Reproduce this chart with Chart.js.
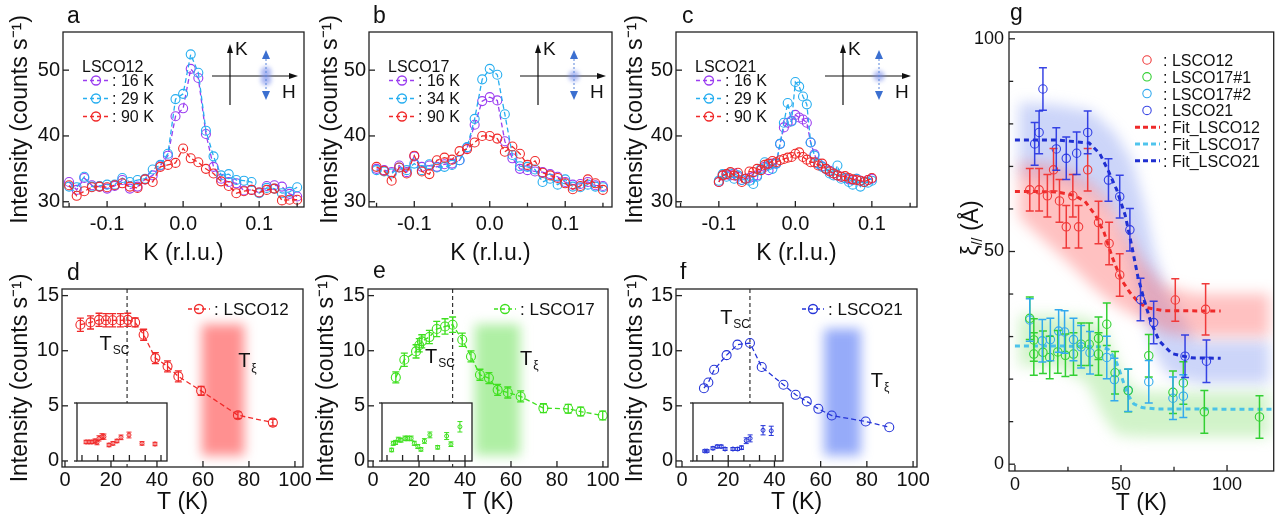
<!DOCTYPE html>
<html>
<head>
<meta charset="utf-8">
<title>LSCO charge order figure</title>
<script src="https://cdn.jsdelivr.net/npm/chart.js@4.4.1/dist/chart.umd.min.js"></script>
<style>
  html, body { margin: 0; padding: 0; background: #fff; }
  body { width: 1279px; height: 521px; position: relative; overflow: hidden; }
  canvas { position: absolute; }
</style>
</head>
<body>
<canvas id="ca"></canvas><canvas id="cb"></canvas><canvas id="cc"></canvas>
<canvas id="cd"></canvas><canvas id="ce"></canvas><canvas id="cf"></canvas>
<canvas id="cg"></canvas>
<canvas id="id"></canvas><canvas id="ie"></canvas><canvas id="if"></canvas>
<script>
// ---------- data: K scans (panels a-c) ----------
const kAB = [-0.15,-0.14,-0.13,-0.12,-0.11,-0.10,-0.09,-0.08,-0.07,-0.06,-0.05,-0.04,-0.03,-0.02,-0.01,0.00,
             0.01,0.02,0.03,0.04,0.05,0.06,0.07,0.08,0.09,0.10,0.11,0.12,0.13,0.14,0.15];
const a16 = [33.0,31.8,33.6,32.5,32.3,32.0,32.4,33.3,32.0,32.3,33.4,34.0,35.5,37.0,43.0,44.2,
             50.2,48.8,40.3,35.3,33.5,33.0,32.8,31.7,31.8,31.4,32.4,32.5,32.3,31.2,30.8];
const a29 = [32.3,32.2,33.8,32.3,32.4,32.6,32.6,33.6,33.0,33.3,33.5,34.9,35.6,37.3,45.6,46.4,
             52.4,49.6,40.8,36.9,34.0,34.2,33.3,33.2,33.0,31.3,32.1,32.0,31.3,31.5,32.2];
const a90 = [32.5,30.9,31.6,32.2,32.3,32.2,32.5,32.8,32.3,32.1,33.4,33.0,35.3,35.6,35.9,38.1,
             36.6,36.0,35.0,34.3,33.1,32.4,31.3,31.6,31.8,31.4,31.8,32.0,30.2,30.3,30.3];
const b16 = [35.0,34.8,34.5,35.5,34.5,36.9,35.3,35.5,35.3,35.7,35.8,36.3,38.2,41.7,45.3,45.9,
             45.4,39.2,36.6,35.0,34.8,34.6,34.5,34.2,33.8,33.0,32.6,32.7,33.0,32.5,32.4];
const b34 = [34.8,34.6,34.3,35.2,34.8,35.8,34.8,35.7,35.2,35.3,35.6,36.3,38.3,42.6,48.6,50.2,
             49.3,43.3,37.1,35.4,35.3,34.9,33.0,33.5,32.6,33.4,32.3,32.2,32.6,32.3,32.2];
const b90 = [35.3,34.7,33.2,35.2,34.3,37.0,34.6,34.2,36.3,36.7,36.4,37.7,38.0,39.0,40.0,40.0,
             39.6,37.6,38.4,37.3,35.6,36.2,34.4,34.0,33.6,32.8,31.9,32.4,33.4,32.8,31.8];
const kC = [-0.100,-0.095,-0.090,-0.085,-0.080,-0.075,-0.070,-0.065,-0.060,-0.055,-0.050,-0.045,-0.040,-0.035,
            -0.030,-0.025,-0.020,-0.015,-0.010,-0.005,0.000,0.005,0.010,0.015,0.020,0.025,0.030,0.035,
            0.040,0.045,0.050,0.055,0.060,0.065,0.070,0.075,0.080,0.085,0.090,0.095,0.100];
const c16 = [33.0,34.0,34.2,34.0,34.3,33.8,33.3,33.5,33.6,33.8,34.0,34.8,35.3,34.8,35.8,35.8,38.8,41.3,42.0,42.3,
             43.2,42.8,42.5,42.0,39.0,37.2,35.8,35.4,35.0,34.7,34.3,34.0,33.8,33.6,33.4,33.3,33.5,33.2,33.0,33.3,33.5];
const c29 = [33.2,34.2,33.8,34.3,33.5,34.0,33.3,33.5,33.2,32.7,33.8,35.0,36.0,35.5,35.0,35.8,38.8,42.0,45.0,42.2,
             48.2,47.5,46.0,44.8,39.0,37.0,35.8,35.3,35.0,34.3,34.0,35.5,33.5,33.6,33.0,32.6,33.5,32.3,33.0,32.9,33.2];
const c90 = [33.0,34.0,34.2,34.5,34.0,34.4,33.0,33.5,34.6,34.5,35.0,34.8,35.6,35.8,36.2,36.0,36.3,36.5,36.7,36.8,
             37.3,37.5,36.8,36.4,36.0,36.0,35.5,35.8,35.0,34.6,34.3,34.0,33.8,33.9,33.6,33.4,33.3,33.2,33.0,33.3,33.6];

// ---------- data: peak intensity vs T (panels d-f) ----------
const tD = [6.7,11.1,14.8,17.8,20.7,24.1,27.3,30.5,34.2,39.3,44.6,49.3,59.2,75.2,90.4];
const iD = [12.36,12.57,12.8,12.76,12.76,12.76,12.8,12.57,11.45,9.33,8.58,7.67,6.36,4.15,3.48];
const eD = [0.6,0.6,0.6,0.6,0.6,0.6,0.6,0.4,0.5,0.5,0.5,0.5,0.4,0.3,0.3];
const tE = [9.9,13.6,18.7,20.1,21.2,24.5,27.7,31.3,34.6,38.8,42.6,46.5,50.4,54.2,58.6,64.2,74.1,84.9,90.3,99.9];
const iE = [7.58,9.18,9.94,10.5,10.85,11.24,11.97,12.2,12.36,11.0,9.48,7.82,7.52,6.45,6.21,5.85,4.79,4.73,4.48,4.12];
const eE = [0.5,0.6,0.6,0.6,0.6,0.6,0.7,0.7,0.7,0.6,0.5,0.5,0.5,0.5,0.5,0.5,0.4,0.4,0.4,0.4];
const tF = [9.5,11.4,13.9,19.3,24,29.4,34.5,43.9,49.2,54,59,64.8,79.5,89.7];
const iF = [6.6,7.12,8.27,9.6,10.55,10.7,8.52,6.91,6.0,5.4,4.73,4.12,3.58,3.06];
const tSC = [27, 34.6, 29.4];
const tXiBand = [[59.5, 78], [44.3, 64], [61.5, 77.4]];

// insets (arbitrary units)
const tDi = [5.1,8.9,12.7,16.5,19,21.5,25.3,27.8,34.2,39.2,44.3,49.4,59.5,76,92.4];
const iDi = [3.28,3.28,3.28,3.45,3.2,3.9,4.2,4.2,2.76,3.04,3.45,4.08,4.48,3.04,2.93];
const eDi = [0.3,0.3,0.3,0.35,0.4,0.45,0.5,0.45,0.3,0.3,0.3,0.4,0.5,0.3,0.3];
const tEi = [6,8,11,14.5,18,23,26.5,31,35,39.5,43.5,48,55,65,76.5,82,93.5];
const iEi = [1.9,3.05,3.2,3.7,3.6,3.9,3.9,3.9,3.05,2.5,2.0,3.45,4.5,2.36,4.3,2.9,5.9];
const eEi = [0.3,0.35,0.35,0.4,0.35,0.4,0.4,0.4,0.35,0.35,0.3,0.4,0.5,0.3,0.6,0.4,0.9];
const tFi = [10,13,20.5,26,31,36,46,52,57,63,68,84.5,95];
const iFi = [1.72,1.72,2.2,2.5,2.5,2.07,2.07,2.07,2.3,3.5,3.9,5.3,5.2];
const eFi = [0.2,0.2,0.25,0.25,0.25,0.25,0.25,0.25,0.3,0.5,0.6,0.8,0.8];

// ---------- data: correlation length (panel g) ----------
const tG12 = [7,11.4,15.3,18.2,21,24.2,27.3,30,34.3,39.4,44.4,49.4,75.6,89.9];
const xiG12 = [64.5,64.5,63.1,69.2,61.9,55.8,63.1,55.8,69.2,56.8,51.9,44.5,38.6,36.4];
const errG12 = [5,5,5,5,5,5,5,5,5,5,5,5,5,6];
const tG17a = [7,8.9,8.9,13.2,16.4,20.2,23.8,27.6,31.2,35,39.4,39.4,43.3,47.2,53.4,63.1,74.5,79.4,89.3,115.3];
const xiG17a = [34.3,29.2,25.9,26.3,25.1,26.4,25.6,25.9,28.2,28.2,29.6,25.9,32.9,21.5,17.3,25.5,16.9,19.1,12.3,11.1];
const errG17a = [5,5,5,5,5,5,5,5,5,5,5,5,5,5,5,5,5,5,5,5];
const tG17b = [7,12.9,16.7,20.6,23.4,27.6,31.2,35.4,43.3,46.9,53.4,63.1,74.5,79.4];
const xiG17b = [33.9,29,29.3,31.3,31.1,29.3,27.6,26.2,25.1,19.9,17.4,19.4,15.5,16];
const errG17b = [5,5,5,5,5,5,5,5,5,5,5,5,5,5];
const tG21 = [9.3,11.4,13.2,19.5,24.2,29.1,34.3,44.1,49.4,54.2,59.2,65.4,80.2,90.3];
const xiG21 = [75.3,78,88.2,74.1,71.9,73.1,78,66.8,62.9,55.1,38.7,33.3,25.4,24.2];
const errG21 = [5,5,5,5,5,5,5,5,5,5,5,5,5,5];
const fitT12 = [0,10,20,28,33,38,42,46,50,54,58,62,70,97];
const fit12 = [64.1,64.1,64,63.2,61.8,58.5,54.5,48.5,43.5,40.5,38.2,36.8,36.1,36];
const fitT17 = [0,20,40,44,47,49,51,53,56,60,66,123];
const fit17 = [27.8,27.8,27.6,27,25,22.5,19.5,16.5,14.2,13.3,13,12.9];
const fitT21 = [0,20,35,40,44,48,52,55,58,61,64,68,74,83,97];
const fit21 = [76.2,76.2,75.5,73,69,64.5,58.5,51.5,44,38.5,33.5,29,26,25,24.9];
// shaded guide bands in g
const bandT12 = [2,15,26,36,44,52,60,70,85,120];
const band12Hi = [71,70.5,69,66,62,55,48,42,40,40];
const band12Lo = [58,52,47,42,38.6,36,34,31,30,30];
const bandT21 = [2,20,36,47,55,61,66,72,86,120];
const band21Hi = [85,84.5,83,78,71.5,61,49,40,29,29];
const band21Lo = [68,67,64,58,48,35,26,21,19,19];
const bandT17 = [2,20,34,42,48,55,62,80,120];
const band17Hi = [35,35,34.5,32,24,18,17,17,17];
const band17Lo = [23,23,19,11,7,6.5,6.4,6.4,6.4];

// ---------- tick labels ----------
const kTicks = [-0.1, 0, 0.1];
const kMinor = [-0.15, -0.05, 0.05, 0.15];
const iTicks = [30, 40, 50];
const tTicks = [0, 20, 40, 60, 80, 100];
const dTicks = [0, 5, 10, 15];
const gxTicks = [0, 50, 100];
const gxMinor = [25, 75];
const gyTicks = [0, 50, 100];
const gyMinor = [10, 20, 30, 40, 60, 70, 80, 90];

// ---------- style ----------
const FONT = '"Liberation Sans", Arial, Helvetica, sans-serif';
Chart.defaults.font.family = FONT;
Chart.defaults.color = '#111';
const cPurple = '#9b3df0', cCyan = '#27aef0', cRed = '#f02a2a', cGreen = '#3ee01e', cBlue = '#2534d8';
const gRed = '#f03a3a', gGreen = '#33d033', gCyan = '#33aaee', gBlue = 'rgba(35,50,225,0.9)';
const yTitle = 'Intensity (counts s\u207B\u00B9)';

function pts(xs, ys) { return xs.map((x, i) => ({ x, y: ys[i] })); }

function series(xs, ys, color, extra) {
  return Object.assign({
    data: pts(xs, ys), showLine: true, borderColor: color, borderWidth: 1.3, borderDash: [5, 3],
    pointStyle: 'circle', pointRadius: 4.5, pointBorderColor: color,
    pointBackgroundColor: 'rgba(0,0,0,0)', pointBorderWidth: 1.1
  }, extra || {});
}

function axisX(min, max, labels, fmt, size, font, pad, title, titlePad) {
  return {
    type: 'linear', position: 'bottom', min, max,
    grid: { display: false, drawTicks: false }, border: { display: false },
    afterBuildTicks: s => { s.ticks = labels.map(v => ({ value: v })); },
    afterFit: s => { s.height = size; },
    ticks: { autoSkip: false, maxRotation: 0, padding: pad, color: '#111', font: { size: font }, callback: fmt },
    title: { display: !!title, text: title, color: '#111', font: { size: 23 }, padding: { top: 0, bottom: titlePad } }
  };
}
function axisY(min, max, labels, fmt, size, font, pad, title, titlePad) {
  return {
    type: 'linear', position: 'left', min, max,
    grid: { display: false, drawTicks: false }, border: { display: false },
    afterBuildTicks: s => { s.ticks = labels.map(v => ({ value: v })); },
    afterFit: s => { s.width = size; },
    ticks: { autoSkip: false, padding: pad, color: '#111', font: { size: font }, callback: fmt },
    title: { display: !!title, text: title, color: '#111', font: { size: 23 }, padding: { top: titlePad, bottom: 0 } }
  };
}

function line(ctx, x1, y1, x2, y2) { ctx.beginPath(); ctx.moveTo(x1, y1); ctx.lineTo(x2, y2); ctx.stroke(); }
function tri(ctx, x, y, dir, w, h) {
  ctx.beginPath();
  if (dir === 'up') { ctx.moveTo(x, y); ctx.lineTo(x - w / 2, y + h); ctx.lineTo(x + w / 2, y + h); }
  if (dir === 'down') { ctx.moveTo(x, y); ctx.lineTo(x - w / 2, y - h); ctx.lineTo(x + w / 2, y - h); }
  if (dir === 'right') { ctx.moveTo(x, y); ctx.lineTo(x - h, y - w / 2); ctx.lineTo(x - h, y + w / 2); }
  ctx.closePath(); ctx.fill();
}
function circle(ctx, x, y, r) { ctx.beginPath(); ctx.arc(x, y, r, 0, 2 * Math.PI); ctx.stroke(); }

function subText(ctx, x, y, main, sub, size) {
  ctx.textAlign = 'left'; ctx.textBaseline = 'alphabetic'; ctx.fillStyle = '#111';
  ctx.font = size + 'px ' + FONT;
  const w1 = ctx.measureText(main).width;
  ctx.fillText(main, x, y);
  ctx.font = Math.round(size * 0.62) + 'px ' + FONT;
  ctx.fillText(sub, x + w1 + 1, y + size * 0.22);
}

function glyph(ctx, ca, spots) {
  const R = ca.right, T = ca.top, vx = R - 74, hy = T + 44, ax = R - 38;
  ctx.strokeStyle = '#111'; ctx.fillStyle = '#111'; ctx.lineWidth = 1.2; ctx.setLineDash([]);
  line(ctx, vx, T + 73, vx, T + 20); tri(ctx, vx, T + 12, 'up', 6, 9);
  line(ctx, R - 92, hy, R - 14, hy); tri(ctx, R - 6, hy, 'right', 6, 9);
  ctx.font = '19px ' + FONT; ctx.textAlign = 'left'; ctx.textBaseline = 'alphabetic';
  ctx.fillText('K', vx + 5, T + 23); ctx.fillText('H', R - 22, T + 66);
  ctx.save(); ctx.filter = 'blur(2px)'; ctx.fillStyle = 'rgba(120,140,235,0.6)';
  spots.forEach(d => { ctx.beginPath(); ctx.arc(ax, hy + d, 5.5, 0, 2 * Math.PI); ctx.fill(); });
  ctx.restore();
  ctx.strokeStyle = '#5a86dc'; ctx.lineWidth = 1; ctx.setLineDash([2, 2]);
  line(ctx, ax, T + 27, ax, T + 59); ctx.setLineDash([]);
  ctx.fillStyle = '#3b6fd0';
  tri(ctx, ax, T + 18, 'up', 8, 9); tri(ctx, ax, T + 68, 'down', 8, 9);
}

const decoPlugin = {
  id: 'deco',
  beforeDatasetsDraw(chart, args, o) {
    const { ctx, chartArea: ca, scales: { x, y } } = chart;
    ctx.save();
    if (o.white) { ctx.fillStyle = '#fff'; ctx.fillRect(ca.left, ca.top, ca.width, ca.height); }
    ctx.beginPath(); ctx.rect(ca.left, ca.top, ca.width, ca.height); ctx.clip();
    (o.polys || []).forEach(p => {
      ctx.save();
      ctx.filter = 'blur(' + p.blur + 'px)'; ctx.fillStyle = p.color;
      ctx.beginPath();
      p.t.forEach((t, i) => {
        const px = x.getPixelForValue(t), py = y.getPixelForValue(p.hi[i]);
        if (i) ctx.lineTo(px, py); else ctx.moveTo(px, py);
      });
      for (let i = p.t.length - 1; i >= 0; i--) ctx.lineTo(x.getPixelForValue(p.t[i]), y.getPixelForValue(p.lo[i]));
      ctx.closePath(); ctx.fill();
      ctx.restore();
    });
    if (o.vband) {
      const b = o.vband;
      ctx.save(); ctx.filter = 'blur(6px)'; ctx.fillStyle = b.color;
      const x1 = x.getPixelForValue(b.from), x2 = x.getPixelForValue(b.to);
      const y1 = y.getPixelForValue(b.top), y2 = y.getPixelForValue(b.bottom);
      ctx.fillRect(x1, y1, x2 - x1, y2 - y1);
      ctx.restore();
    }
    (o.vlines || []).forEach(v => {
      ctx.strokeStyle = '#333'; ctx.lineWidth = 1.2; ctx.setLineDash([4, 3]);
      const px = x.getPixelForValue(v);
      line(ctx, px, ca.top, px, ca.bottom);
      ctx.setLineDash([]);
    });
    ctx.restore();
  },
  afterDatasetsDraw(chart, args, o) {
    const { ctx, chartArea: ca, scales: { x, y } } = chart;
    ctx.save();
    // error bars
    chart.data.datasets.forEach((ds, i) => {
      if (!ds.errors) return;
      const meta = chart.getDatasetMeta(i);
      ctx.strokeStyle = ds.borderColor; ctx.lineWidth = ds.errWidth || 1.2; ctx.setLineDash([]);
      const cw = ds.capW || 3;
      meta.data.forEach((el, j) => {
        const v = ds.data[j].y, e = ds.errors[j];
        const y1 = y.getPixelForValue(v + e), y2 = y.getPixelForValue(v - e);
        ctx.beginPath();
        ctx.moveTo(el.x, y1); ctx.lineTo(el.x, y2);
        ctx.moveTo(el.x - cw, y1); ctx.lineTo(el.x + cw, y1);
        ctx.moveTo(el.x - cw, y2); ctx.lineTo(el.x + cw, y2);
        ctx.stroke();
      });
    });
    // frame and inward ticks
    ctx.strokeStyle = '#222'; ctx.lineWidth = 1.3; ctx.setLineDash([]);
    ctx.strokeRect(ca.left, ca.top, ca.width, ca.height);
    const tl = o.tickLen || 6;
    (o.xMajor || []).forEach(v => { const p = x.getPixelForValue(v); line(ctx, p, ca.bottom, p, ca.bottom - tl); });
    (o.xMinor || []).forEach(v => { const p = x.getPixelForValue(v); line(ctx, p, ca.bottom, p, ca.bottom - tl * 0.7); });
    (o.yMajor || []).forEach(v => { const p = y.getPixelForValue(v); line(ctx, ca.left, p, ca.left + tl, p); });
    (o.yMinor || []).forEach(v => { const p = y.getPixelForValue(v); line(ctx, ca.left, p, ca.left + tl * 0.7, p); });
    (o.yOut || []).forEach(v => { const p = y.getPixelForValue(v); line(ctx, ca.left - 3, p, ca.left, p); });
    // panel letter
    if (o.letter) {
      ctx.fillStyle = '#111'; ctx.font = '23px ' + FONT; ctx.textAlign = 'left'; ctx.textBaseline = 'alphabetic';
      ctx.fillText(o.letter.t, ca.left + o.letter.dx, ca.top + o.letter.dy);
    }
    // T labels with subscripts
    (o.texts || []).forEach(t => subText(ctx, x.getPixelForValue(t.x), y.getPixelForValue(t.y), t.main, t.sub, 20));
    if (o.glyph) glyph(ctx, ca, o.glyph);
    // legend of the K scans
    if (o.kLegend) {
      const L = o.kLegend, x0 = ca.left + 20;
      ctx.font = '16px ' + FONT; ctx.fillStyle = '#111'; ctx.textAlign = 'left'; ctx.textBaseline = 'alphabetic';
      ctx.fillText(L.title, x0 - 1, ca.top + 40);
      L.items.forEach((it, i) => {
        const by = ca.top + 54 + 18 * i, cy = by - 5.5;
        ctx.strokeStyle = it[0]; ctx.lineWidth = 1.3; ctx.setLineDash([4, 3]);
        line(ctx, x0, cy, x0 + 26, cy); ctx.setLineDash([]);
        circle(ctx, x0 + 13, cy, 4.5);
        ctx.fillStyle = '#111'; ctx.fillText(it[1], x0 + 29, by);
      });
    }
    // legend of the T scans
    if (o.tLegend) {
      const L = o.tLegend, x0 = ca.left + 126, by = ca.top + 26, cy = by - 6;
      ctx.strokeStyle = L.color; ctx.lineWidth = 1.3; ctx.setLineDash([4, 3]);
      line(ctx, x0, cy, x0 + 22, cy); ctx.setLineDash([]);
      circle(ctx, x0 + 11, cy, 4.5);
      ctx.font = '17px ' + FONT; ctx.fillStyle = '#111'; ctx.textAlign = 'left'; ctx.textBaseline = 'alphabetic';
      ctx.fillText(L.text, x0 + 26, by);
    }
    // legend of panel g
    if (o.gLegend) {
      ctx.font = '16px ' + FONT; ctx.textAlign = 'left'; ctx.textBaseline = 'alphabetic';
      o.gLegend.forEach((it, i) => {
        const by = ca.top + 34 + 16.8 * i, cy = by - 6;
        ctx.strokeStyle = it.color;
        if (it.fit) { ctx.lineWidth = 3; ctx.setLineDash([5, 3]); line(ctx, ca.left + 126, cy, ca.left + 151, cy); ctx.setLineDash([]); }
        else { ctx.lineWidth = 1.1; circle(ctx, ca.left + 138, cy, 4.2); }
        ctx.fillStyle = '#111'; ctx.fillText(it.text, ca.left + 154, by);
      });
    }
    // y title of panel g with subscript
    if (o.xiTitle) {
      ctx.save(); ctx.translate(o.xiTitle.x, o.xiTitle.y); ctx.rotate(-Math.PI / 2);
      ctx.fillStyle = '#111'; ctx.textBaseline = 'middle'; ctx.textAlign = 'left';
      ctx.font = '23px ' + FONT; const w1 = ctx.measureText('\u03BE').width, w3 = ctx.measureText(' (\u00C5)').width;
      ctx.font = '14px ' + FONT; const w2 = ctx.measureText('//').width;
      const x0 = -(w1 + w2 + w3) / 2;
      ctx.font = '23px ' + FONT; ctx.fillText('\u03BE', x0, 0); ctx.fillText(' (\u00C5)', x0 + w1 + w2, 0);
      ctx.font = '14px ' + FONT; ctx.fillText('//', x0 + w1, 6);
      ctx.restore();
    }
    ctx.restore();
  }
};

function makeChart(id, box, area, datasets, scales, deco) {
  const cv = document.getElementById(id);
  cv.width = box.w; cv.height = box.h;
  cv.style.left = box.x + 'px'; cv.style.top = box.y + 'px';
  return new Chart(cv, {
    type: 'scatter',
    data: { datasets },
    options: {
      responsive: false, animation: false,
      layout: { padding: { left: 0, top: area.top - box.y, right: box.x + box.w - area.right, bottom: 0 } },
      scales,
      plugins: { legend: { display: false }, tooltip: { enabled: false }, deco }
    },
    plugins: [decoPlugin]
  });
}

function makeInset(id, area, xs, ys, errs, color, xmin, xmax) {
  const pad = 8, cv = document.getElementById(id);
  cv.width = area.right - area.left + 2 * pad; cv.height = area.bottom - area.top + 2 * pad;
  cv.style.left = (area.left - pad) + 'px'; cv.style.top = (area.top - pad) + 'px';
  return new Chart(cv, {
    type: 'scatter',
    data: { datasets: [{ data: pts(xs, ys), errors: errs, capW: 2.5, errWidth: 1, borderColor: color,
      pointRadius: 2, pointBorderColor: color, pointBackgroundColor: 'rgba(0,0,0,0)', pointBorderWidth: 1 }] },
    options: {
      responsive: false, animation: false, layout: { padding: pad },
      scales: { x: { display: false, min: xmin, max: xmax }, y: { display: false, min: 0, max: 10 } },
      plugins: { legend: { display: false }, tooltip: { enabled: false },
        deco: { white: true, xMajor: tTicks, tickLen: 6, yOut: [0, 10] } }
    },
    plugins: [decoPlugin]
  });
}

const fmtK = v => v.toFixed(1);
const fmtI = v => String(v);

// ---------- panels a-c ----------
makeChart('ca', { x: 0, y: 0, w: 320, h: 268 }, { left: 63, top: 32, right: 304, bottom: 207 },
  [series(kAB, a90, cRed), series(kAB, a29, cCyan), series(kAB, a16, cPurple)],
  { x: axisX(-0.158, 0.159, kTicks, fmtK, 61, 20, 5, 'K (r.l.u.)', 1),
    y: axisY(29.2, 55.8, iTicks, fmtI, 63, 20, 3, yTitle, 7) },
  { letter: { t: 'a', dx: 4, dy: -9 }, xMajor: kTicks, xMinor: kMinor, yMajor: iTicks, glyph: [-4, 4],
    kLegend: { title: 'LSCO12', items: [[cPurple, ': 16 K'], [cCyan, ': 29 K'], [cRed, ': 90 K']] } });

makeChart('cb', { x: 310, y: 0, w: 320, h: 268 }, { left: 369, top: 32, right: 612, bottom: 207 },
  [series(kAB, b90, cRed), series(kAB, b34, cCyan), series(kAB, b16, cPurple)],
  { x: axisX(-0.16, 0.162, kTicks, fmtK, 61, 20, 5, 'K (r.l.u.)', 1),
    y: axisY(29.2, 55.8, iTicks, fmtI, 59, 20, 3, yTitle, 7) },
  { letter: { t: 'b', dx: 4, dy: -9 }, xMajor: kTicks, xMinor: kMinor, yMajor: iTicks, glyph: [0],
    kLegend: { title: 'LSCO17', items: [[cPurple, ': 16 K'], [cCyan, ': 34 K'], [cRed, ': 90 K']] } });

makeChart('cc', { x: 620, y: 0, w: 320, h: 268 }, { left: 676, top: 32, right: 917, bottom: 207 },
  [series(kC, c90, cRed), series(kC, c29, cCyan), series(kC, c16, cPurple)],
  { x: axisX(-0.156, 0.159, kTicks, fmtK, 61, 20, 5, 'K (r.l.u.)', 1),
    y: axisY(29.2, 55.8, iTicks, fmtI, 56, 20, 3, yTitle, 2) },
  { letter: { t: 'c', dx: 6, dy: -9 }, xMajor: kTicks, xMinor: kMinor, yMajor: iTicks, glyph: [0],
    kLegend: { title: 'LSCO21', items: [[cPurple, ': 16 K'], [cCyan, ': 29 K'], [cRed, ': 90 K']] } });

// ---------- panels d-f ----------
const errOpt = { capW: 3.5, errWidth: 1.3 };
makeChart('cd', { x: 0, y: 262, w: 320, h: 259 }, { left: 62, top: 289, right: 303, bottom: 467 },
  [series(tD, iD, cRed, Object.assign({ errors: eD }, errOpt))],
  { x: axisX(-1.3, 103.5, tTicks, fmtI, 54, 20, 1, 'T (K)', 5),
    y: axisY(-0.55, 15.6, dTicks, fmtI, 62, 20, 3, yTitle, 7) },
  { letter: { t: 'd', dx: 5, dy: -9 }, xMajor: tTicks, yMajor: dTicks, vlines: [tSC[0]],
    vband: { from: tXiBand[0][0], to: tXiBand[0][1], top: 12.4, bottom: 0.5, color: 'rgba(255,70,70,0.6)' },
    texts: [{ x: 15, y: 10.1, main: 'T', sub: 'SC' }, { x: 75.3, y: 8.5, main: 'T', sub: '\u03BE' }],
    tLegend: { color: cRed, text: ': LSCO12' } });

makeChart('ce', { x: 310, y: 262, w: 320, h: 259 }, { left: 368, top: 289, right: 608, bottom: 467 },
  [series(tE, iE, cGreen, Object.assign({ errors: eE }, errOpt))],
  { x: axisX(-2.2, 102.2, tTicks, fmtI, 54, 20, 1, 'T (K)', 5),
    y: axisY(-0.55, 15.6, dTicks, fmtI, 58, 20, 3, yTitle, 3) },
  { letter: { t: 'e', dx: 5, dy: -11 }, xMajor: tTicks, yMajor: dTicks, vlines: [tSC[1]],
    vband: { from: tXiBand[1][0], to: tXiBand[1][1], top: 12.4, bottom: 0.5, color: 'rgba(110,225,90,0.55)' },
    texts: [{ x: 22.6, y: 8.9, main: 'T', sub: 'SC' }, { x: 63.9, y: 8.7, main: 'T', sub: '\u03BE' }],
    tLegend: { color: cGreen, text: ': LSCO17' } });

makeChart('cf', { x: 620, y: 262, w: 320, h: 259 }, { left: 676, top: 289, right: 917, bottom: 467 },
  [series(tF, iF, cBlue)],
  { x: axisX(-2.6, 101.7, tTicks, fmtI, 54, 20, 1, 'T (K)', 5),
    y: axisY(-0.55, 15.6, dTicks, fmtI, 56, 20, 3, yTitle, 2) },
  { letter: { t: 'f', dx: 4, dy: -10 }, xMajor: tTicks, yMajor: dTicks, vlines: [tSC[2]],
    vband: { from: tXiBand[2][0], to: tXiBand[2][1], top: 12.0, bottom: 0.5, color: 'rgba(80,115,245,0.6)' },
    texts: [{ x: 16.5, y: 12.45, main: 'T', sub: 'SC' }, { x: 81.7, y: 6.7, main: 'T', sub: '\u03BE' }],
    tLegend: { color: cBlue, text: ': LSCO21' } });

makeInset('id', { left: 77, top: 403, right: 167, bottom: 461 }, tDi, iDi, eDi, cRed, -6.3, 107.6);
makeInset('ie', { left: 382, top: 403, right: 472, bottom: 461 }, tEi, iEi, eEi, cGreen, -6.4, 109);
makeInset('if', { left: 693, top: 403, right: 783, bottom: 461 }, tFi, iFi, eFi, cBlue, -5, 110);

// ---------- panel g ----------
const gPts = (xs, ys, errs, color) => ({
  data: pts(xs, ys), errors: errs, capW: 4, errWidth: 1.5, borderColor: color, showLine: false,
  pointRadius: 4.2, pointBorderColor: color, pointBackgroundColor: 'rgba(0,0,0,0)', pointBorderWidth: 1.1
});
const gFit = (xs, ys, color) => ({
  data: pts(xs, ys), showLine: true, borderColor: color, borderWidth: 3, borderDash: [5, 4], pointRadius: 0
});
makeChart('cg', { x: 940, y: 0, w: 339, h: 521 }, { left: 1009, top: 32, right: 1276, bottom: 471 },
  [gPts(tG17a, xiG17a, errG17a, gGreen), gPts(tG17b, xiG17b, errG17b, gCyan),
   gPts(tG12, xiG12, errG12, gRed), gPts(tG21, xiG21, errG21, gBlue),
   gFit(fitT17, fit17, 'rgba(60,190,235,0.9)'), gFit(fitT12, fit12, '#ee2a2a'), gFit(fitT21, fit21, '#1f2fd0')],
  { x: axisX(-2.8, 122, gxTicks, fmtI, 50, 18, 3, 'T (K)', 4),
    y: axisY(-1.6, 101.6, gyTicks, fmtI, 69, 18, 5, '', 0) },
  { letter: { t: 'g', dx: 1, dy: -12 }, xMajor: gxTicks, xMinor: gxMinor, yMajor: gyTicks, yMinor: gyMinor,
    polys: [
      { t: bandT17, hi: band17Hi, lo: band17Lo, color: 'rgba(140,225,120,0.4)', blur: 7 },
      { t: bandT21, hi: band21Hi, lo: band21Lo, color: 'rgba(120,145,240,0.38)', blur: 7 },
      { t: bandT12, hi: band12Hi, lo: band12Lo, color: 'rgba(255,100,100,0.4)', blur: 7 }
    ],
    xiTitle: { x: 32, y: 228 },
    gLegend: [
      { color: gRed, text: ': LSCO12' }, { color: gGreen, text: ': LSCO17#1' },
      { color: gCyan, text: ': LSCO17#2' }, { color: gBlue, text: ': LSCO21' },
      { color: '#ee2a2a', text: ': Fit_LSCO12', fit: true }, { color: 'rgba(60,190,235,0.9)', text: ': Fit_LSCO17', fit: true },
      { color: '#1f2fd0', text: ': Fit_LSCO21', fit: true }
    ] });
</script>
</body>
</html>
